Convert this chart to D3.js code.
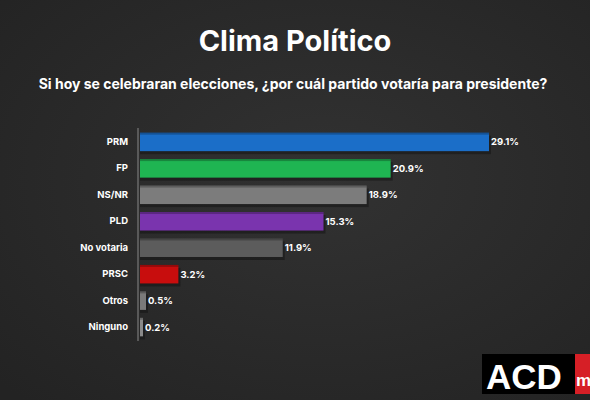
<!DOCTYPE html>
<meta charset="utf-8">
<head>
  <title>Clima Político</title>
  <style>
    html, body { margin: 0; padding: 0; background: #2a2a2a; }
    body { font-family: Inter, "Noto Sans", sans-serif; }
  </style>
  <script src="https://d3js.org/d3.v7.min.js"></script>
</head>
<body>
  <svg id="chart" width="590" height="400"></svg>
  <script>
var categories = ["PRM", "FP", "NS/NR", "PLD", "No votaria", "PRSC", "Otros", "Ninguno"];
var values = [29.1, 20.9, 18.9, 15.3, 11.9, 3.2, 0.5, 0.2];
var colors = ["#1b6ec8", "#1fb552", "#7c7c7c", "#7a34ae", "#5c5c5c", "#c80d0d", "#7a7a7a", "#8a8a8a"];

var svg = d3.select("#chart");

var defs = svg.append("defs");
var bg = defs.append("radialGradient").attr("id", "bg").attr("cx", "55%").attr("cy", "45%").attr("r", "75%");
bg.append("stop").attr("offset", "0%").attr("stop-color", "#323232");
bg.append("stop").attr("offset", "100%").attr("stop-color", "#232323");

svg.append("rect").attr("width", 590).attr("height", 400).attr("fill", "url(#bg)");

svg.append("text")
  .attr("x", 295).attr("y", 51)
  .attr("text-anchor", "middle")
  .attr("fill", "#fff")
  .attr("font-size", 29).attr("font-weight", 700)
  .text("Clima Político");

svg.append("text")
  .attr("x", 293).attr("y", 89)
  .attr("text-anchor", "middle")
  .attr("fill", "#fff")
  .attr("font-size", 14).attr("font-weight", 700)
  .text("Si hoy se celebraran elecciones, ¿por cuál partido votaría para presidente?");

var x = d3.scaleLinear().domain([0, 29.1]).range([140, 489]);
var y = d3.scaleBand().domain(categories).range([130, 339]).paddingInner(0.3).paddingOuter(0.1);

var rows = categories.map(function(c, i) { return {cat: c, val: values[i], col: colors[i]}; });

var g = svg.append("g");

// soft shadow under each bar
g.selectAll("rect.shadow")
  .data(rows)
  .enter().append("rect")
  .attr("class", "shadow")
  .attr("x", x(0))
  .attr("y", function(d) { return y(d.cat) + 3; })
  .attr("width", function(d) { return Math.max(x(d.val) - x(0), 3) + 2; })
  .attr("height", y.bandwidth())
  .attr("fill", "#111")
  .attr("opacity", 0.5);

g.selectAll("rect.bar")
  .data(rows)
  .enter().append("rect")
  .attr("class", "bar")
  .attr("x", x(0))
  .attr("y", function(d) { return y(d.cat); })
  .attr("width", function(d) { return Math.max(x(d.val) - x(0), 3); })
  .attr("height", y.bandwidth())
  .attr("fill", function(d) { return d.col; });

// darker top edge for the slight 3D look
g.selectAll("rect.edge")
  .data(rows)
  .enter().append("rect")
  .attr("class", "edge")
  .attr("x", x(0))
  .attr("y", function(d) { return y(d.cat); })
  .attr("width", function(d) { return Math.max(x(d.val) - x(0), 3); })
  .attr("height", 2)
  .attr("fill", "#000")
  .attr("opacity", 0.25);

g.selectAll("text.val")
  .data(rows)
  .enter().append("text")
  .attr("class", "val")
  .attr("x", function(d) { return Math.max(x(d.val), x(0) + 3) + 2; })
  .attr("y", function(d) { return y(d.cat) + y.bandwidth() / 2 + 3.5; })
  .attr("fill", "#fff")
  .attr("font-size", 9.5).attr("font-weight", 700)
  .text(function(d) { return d.val.toFixed(1) + "%"; });

var axis = svg.append("g")
  .attr("transform", "translate(" + (x(0) - 2) + ",0)")
  .call(d3.axisLeft(y).tickSize(0).tickPadding(10));
axis.select(".domain").attr("stroke", "#6a6a6a").attr("stroke-width", 1.5)
  .attr("d", "M0,128V341");
axis.selectAll("text")
  .attr("fill", "#fff")
  .attr("font-size", 9.5).attr("font-weight", 700)
  .attr("font-family", "Inter, 'Noto Sans', sans-serif");

// logo
svg.append("rect").attr("x", 482).attr("y", 354).attr("width", 94).attr("height", 40).attr("fill", "#000");
svg.append("rect").attr("x", 575).attr("y", 354).attr("width", 15).attr("height", 40).attr("fill", "#d61f26");
svg.append("text").attr("x", 486).attr("y", 389).attr("fill", "#fff")
  .attr("font-size", 35).attr("font-weight", 900).attr("font-family", "'Liberation Sans', Arial, sans-serif")
  .text("ACD");
svg.append("text").attr("x", 576).attr("y", 386).attr("fill", "#fff")
  .attr("font-size", 17).attr("font-weight", 700).attr("font-family", "'Liberation Sans', Arial, sans-serif")
  .text("m");
  </script>
</body>
</html>
